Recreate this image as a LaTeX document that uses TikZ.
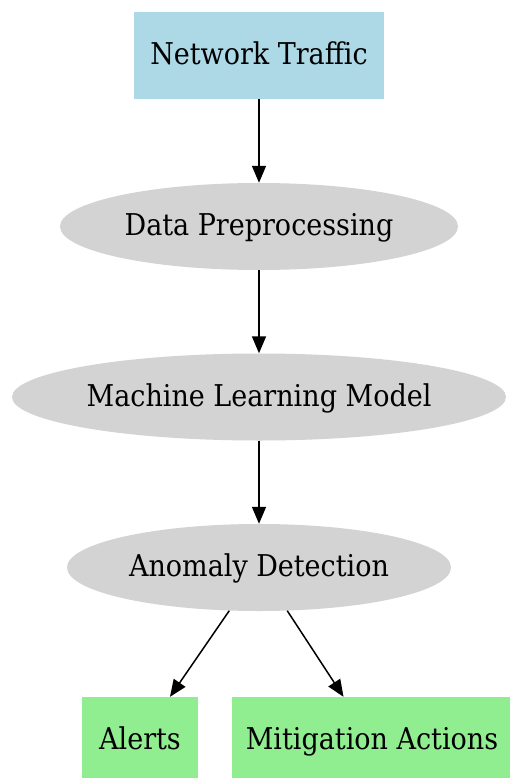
\documentclass[tikz,border=0pt]{standalone}
\usepackage{fontspec}
\setmainfont{DejaVu Serif Condensed}
\usetikzlibrary{shapes.geometric, arrows.meta}

\definecolor{trafficblue}{HTML}{ADD8E6}
\definecolor{stagegray}{HTML}{D3D3D3}
\definecolor{actiongreen}{HTML}{90EE90}

\begin{document}
\begin{tikzpicture}[x=1pt, y=-1pt,
        every node/.style={inner sep=0pt, text height=22pt, text depth=4pt,
            font=\fontsize{30}{36}\selectfont},
        sourcebox/.style={rectangle, fill=trafficblue, minimum height=87pt},
        stage/.style={ellipse, fill=stagegray, minimum height=87pt},
        actionbox/.style={rectangle, fill=actiongreen, minimum height=87pt},
        flow/.style={draw=black, line width=1.5pt, -{Triangle[length=17pt, width=14pt]}}]
        \useasboundingbox (0,0) rectangle (509,778);
        % input
        \node [sourcebox, minimum width=250pt] (traffic) at (259,55.5) {Network Traffic};
        % processing chain
        \node [stage, minimum width=398pt] (prep) at (259,226.5) {Data Preprocessing};
        \node [stage, minimum width=494pt] (model) at (259,397) {Machine Learning Model};
        \node [stage, minimum width=384pt] (detect) at (259,567.5) {Anomaly Detection};
        % outputs
        \node [actionbox, minimum width=116pt] (alerts) at (140,740.5) {Alerts};
        \node [actionbox, minimum width=280pt] (mitigate) at (372,740.5) {Mitigation Actions};
        \draw [flow] (traffic) -- (prep);
        \draw [flow] (prep) -- (model);
        \draw [flow] (model) -- (detect);
        \draw [flow] (detect) -- (alerts);
        \draw [flow] (detect) -- (mitigate);
\end{tikzpicture}
\end{document}
